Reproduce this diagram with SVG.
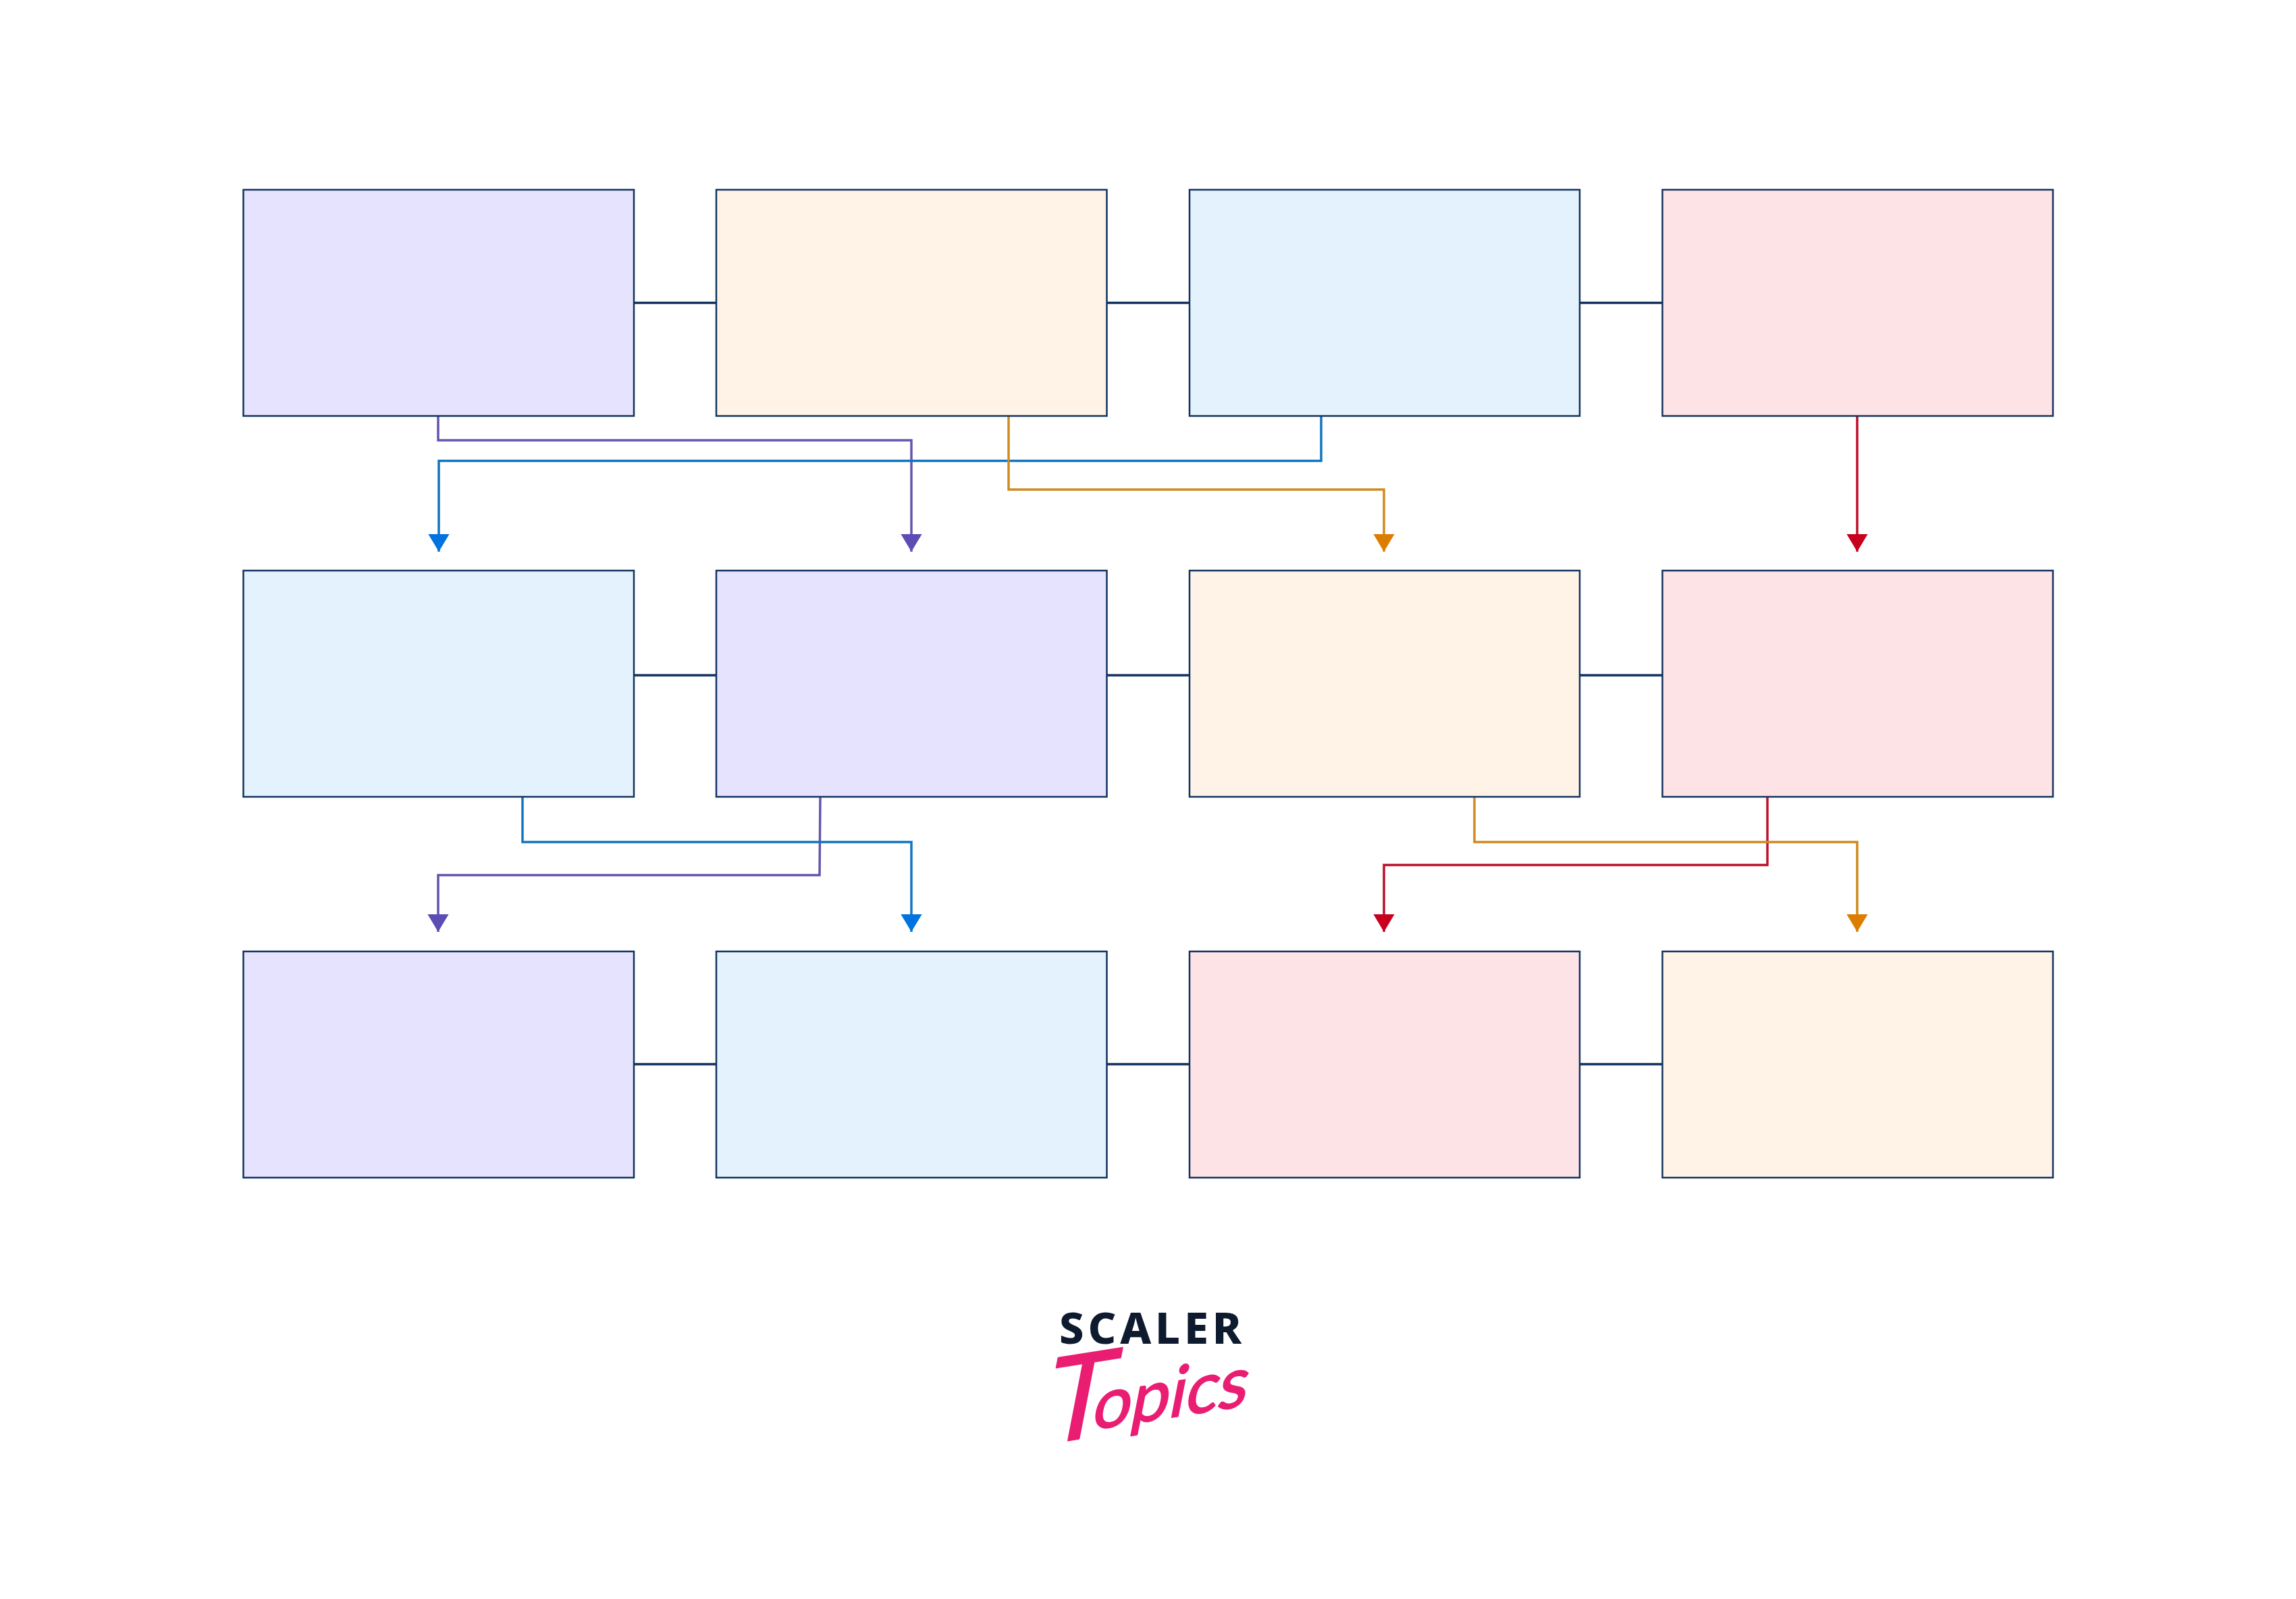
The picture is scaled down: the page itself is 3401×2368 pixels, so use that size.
<svg xmlns="http://www.w3.org/2000/svg" width="3401" height="2368" viewBox="0 0 3401 2368">
<defs>
<style>
.n{stroke:#12335f;stroke-width:2.5}
.lav{fill:#e5e3fd}.cream{fill:#fef3e6}.sky{fill:#e3f2fd}.rose{fill:#fee3e6}
.c{fill:none;stroke-width:3.5;stroke-linejoin:miter}
.link{stroke:#12335f}
.pu{stroke:#6554ae}.bl{stroke:#1275c0}.or{stroke:#d08a1e}.re{stroke:#bd0f2b}
.brand{font-family:"Noto Sans","Open Sans",sans-serif;font-weight:800;font-size:65px;fill:#0e1a2e}
.script{font-family:"Lato",sans-serif;fill:#e91e73;stroke:#e91e73;stroke-width:2;stroke-linejoin:round}
</style>
<marker id="mp" markerUnits="userSpaceOnUse" markerWidth="32" markerHeight="26" refX="15" refY="25" orient="0" viewBox="0 0 30 25"><path d="M0 0H30L15 25Z" fill="#5b4db5"/></marker>
<marker id="mb" markerUnits="userSpaceOnUse" markerWidth="32" markerHeight="26" refX="15" refY="25" orient="0" viewBox="0 0 30 25"><path d="M0 0H30L15 25Z" fill="#0073e0"/></marker>
<marker id="mo" markerUnits="userSpaceOnUse" markerWidth="32" markerHeight="26" refX="15" refY="25" orient="0" viewBox="0 0 30 25"><path d="M0 0H30L15 25Z" fill="#dc7c00"/></marker>
<marker id="mr" markerUnits="userSpaceOnUse" markerWidth="32" markerHeight="26" refX="15" refY="25" orient="0" viewBox="0 0 30 25"><path d="M0 0H30L15 25Z" fill="#c8001e"/></marker>
</defs>
<rect width="3401" height="2368" fill="#fff"/>
<g id="connectors">
<path class="c link" d="M939 448.5H1061M1640 448.5H1762M2340 448.5H2462M939 1000H1061M1640 1000H1762M2340 1000H2462M939 1576H1061M1640 1576H1762M2340 1576H2462"/>
<path class="c pu" marker-end="url(#mp)" d="M649 616V652H1350V817"/>
<path class="c bl" marker-end="url(#mb)" d="M1957 616V682.500H650V817"/>
<path class="c or" marker-end="url(#mo)" d="M1494 616V725H2050V817"/>
<path class="c re" marker-end="url(#mr)" d="M2751 616V817"/>
<path class="c pu" marker-end="url(#mp)" d="M1215 1180L1214 1296H649V1380"/>
<path class="c bl" marker-end="url(#mb)" d="M774 1180V1247H1350V1380"/>
<path class="c re" marker-end="url(#mr)" d="M2618 1180V1281H2050V1380"/>
<path class="c or" marker-end="url(#mo)" d="M2184 1180V1247H2751V1380"/>
</g>
<g id="n1"><rect class="n lav" x="360.5" y="281" width="578.5" height="335"/></g>
<g id="n2"><rect class="n cream" x="1061" y="281" width="578.5" height="335"/></g>
<g id="n3"><rect class="n sky" x="1762" y="281" width="578" height="335"/></g>
<g id="n4"><rect class="n rose" x="2462.5" y="281" width="578.5" height="335"/></g>
<g id="n5"><rect class="n sky" x="360.5" y="845" width="578.5" height="335"/></g>
<g id="n6"><rect class="n lav" x="1061" y="845" width="578.5" height="335"/></g>
<g id="n7"><rect class="n cream" x="1762" y="845" width="578" height="335"/></g>
<g id="n8"><rect class="n rose" x="2462.5" y="845" width="578.5" height="335"/></g>
<g id="n9"><rect class="n lav" x="360.5" y="1409" width="578.5" height="335"/></g>
<g id="n10"><rect class="n sky" x="1061" y="1409" width="578.5" height="335"/></g>
<g id="n11"><rect class="n rose" x="1762" y="1409" width="578" height="335"/></g>
<g id="n12"><rect class="n cream" x="2462.5" y="1409" width="578.5" height="335"/></g>
<g id="logo">
<text class="brand" x="1569" y="1990" textLength="270" lengthAdjust="spacing">SCALER</text>
<text class="script" transform="translate(1540 2140) rotate(-9) skewX(-20)"><tspan font-size="172">T</tspan><tspan font-size="102" dx="-28" dy="-10">opics</tspan></text>
</g>
</svg>
